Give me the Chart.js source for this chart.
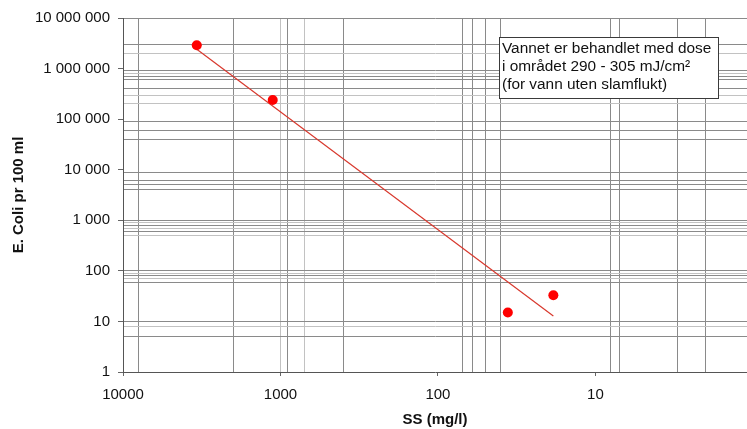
<!DOCTYPE html>
<html><head><meta charset="utf-8">
<style>html,body{margin:0;padding:0;background:#fff;overflow:hidden;width:747px;height:429px}#wrap{width:752px;height:429px;position:relative}</style>
<script src="https://cdn.jsdelivr.net/npm/chart.js@4/dist/chart.umd.min.js"></script>
</head><body><div id="wrap"><canvas id="c"></canvas></div>
<script>
const ssValues = [3400, 1120, 36, 18.5];
const ecoliValues = [2900000, 240000, 15, 33];
const trendSS = [3400, 18.5];
const trendEcoli = [2400000, 12.8];
const xTickValues = [10000, 1000, 100, 10];
const xTickLabels = ['10000', '1000', '100', '10'];
const yTickValues = [1, 10, 100, 1000, 10000, 100000, 1000000, 10000000];
const yTickLabels = ['1', '10', '100', '1 000', '10 000', '100 000', '1 000 000', '10 000 000'];
const xGridValues = [8000, 2000, 1000, 900, 700, 400, 70, 60, 50, 40, 8, 7, 3, 2];
const yGridValues = [10000000, 3000000, 2000000, 900000, 800000, 700000, 600000, 400000, 300000, 200000,
  90000, 60000, 40000, 9000, 6000, 5000, 4000, 1000, 900, 800, 700, 600, 500, 100, 90, 80, 70, 60, 10, 8, 5];
const noteLines = ['Vannet er behandlet med dose', 'i området 290 - 305 mJ/cm²', '(for vann uten slamflukt)'];

const lightX = [1000, 700];
const lightY = [2000000, 800000, 300000, 200000, 900, 700, 500, 90, 70, 8];
const DARK = '#8a8a8a', LIGHT = '#c2c2c2', NONE = 'rgba(0,0,0,0)';

Chart.defaults.font.family = '"Liberation Sans", Arial, sans-serif';
Chart.defaults.color = '#111';

function buildTicks(scale, a, b) {
  const s = Array.from(new Set([...a, ...b])).sort((p, q) => p - q);
  scale.ticks = s.map(v => ({ value: v }));
}

const notePlugin = {
  id: 'note',
  afterDraw(chart) {
    const c = chart.ctx;
    c.save();
    c.fillStyle = '#fff';
    c.fillRect(499, 37, 220, 62);
    c.strokeStyle = '#3a3a3a';
    c.lineWidth = 1;
    c.strokeRect(499.5, 37.5, 219, 61);
    c.fillStyle = '#111';
    c.font = '15.4px "Liberation Sans", Arial, sans-serif';
    c.textBaseline = 'alphabetic';
    noteLines.forEach((t, i) => c.fillText(t, 502, 52.5 + i * 18.3));
    c.restore();
  }
};

new Chart(document.getElementById('c'), {
  type: 'scatter',
  data: {
    datasets: [
      {
        data: ssValues.map((x, i) => ({ x, y: ecoliValues[i] })),
        backgroundColor: '#ff0000', borderWidth: 0, pointRadius: 5, showLine: false
      },
      {
        data: trendSS.map((x, i) => ({ x, y: trendEcoli[i] })),
        showLine: true, pointRadius: 0, borderColor: '#d8392e', borderWidth: 1.2, fill: false
      }
    ]
  },
  options: {
    responsive: true, maintainAspectRatio: false, animation: false,
    layout: { padding: { top: 18, right: 0, left: 0, bottom: 0 } },
    plugins: { legend: { display: false }, tooltip: { enabled: false } },
    scales: {
      x: {
        type: 'logarithmic', reverse: true, min: 1.09, max: 10000,
        afterBuildTicks: s => buildTicks(s, xTickValues, xGridValues),
        afterFit: s => { s.height = 57; s.paddingLeft = 0; s.paddingRight = 0; },
        ticks: {
          autoSkip: false, maxRotation: 0, padding: 10, font: { size: 15 },
          callback: v => { const i = xTickValues.indexOf(v); return i >= 0 ? xTickLabels[i] : ''; }
        },
        grid: {
          tickLength: 4,
          color: ctx => (ctx.tick && xGridValues.includes(ctx.tick.value)) ? (lightX.includes(ctx.tick.value) ? LIGHT : DARK) : NONE,
          tickColor: ctx => (ctx.tick && xTickValues.includes(ctx.tick.value)) ? '#666' : NONE
        },
        border: { color: '#555', width: 1 },
        title: { display: true, text: 'SS (mg/l)', font: { size: 15, weight: 'bold' }, color: '#111', padding: { top: 0, bottom: 0 } }
      },
      y: {
        type: 'logarithmic', min: 1, max: 10000000,
        afterBuildTicks: s => buildTicks(s, yTickValues, yGridValues),
        afterFit: s => { s.width = 123; s.paddingTop = 0; s.paddingBottom = 0; },
        ticks: {
          autoSkip: false, padding: 8, font: { size: 15 },
          callback: v => { const i = yTickValues.indexOf(v); return i >= 0 ? yTickLabels[i] : ''; }
        },
        grid: {
          tickLength: 5,
          color: ctx => (ctx.tick && yGridValues.includes(ctx.tick.value)) ? (lightY.includes(ctx.tick.value) ? LIGHT : DARK) : NONE,
          tickColor: ctx => (ctx.tick && yTickValues.includes(ctx.tick.value)) ? '#666' : NONE
        },
        border: { color: '#555', width: 1 },
        title: { display: true, text: 'E. Coli pr 100 ml', font: { size: 15, weight: 'bold' }, color: '#111', padding: { top: 10, bottom: 0 } }
      }
    }
  },
  plugins: [notePlugin]
});
</script>
</body></html>
